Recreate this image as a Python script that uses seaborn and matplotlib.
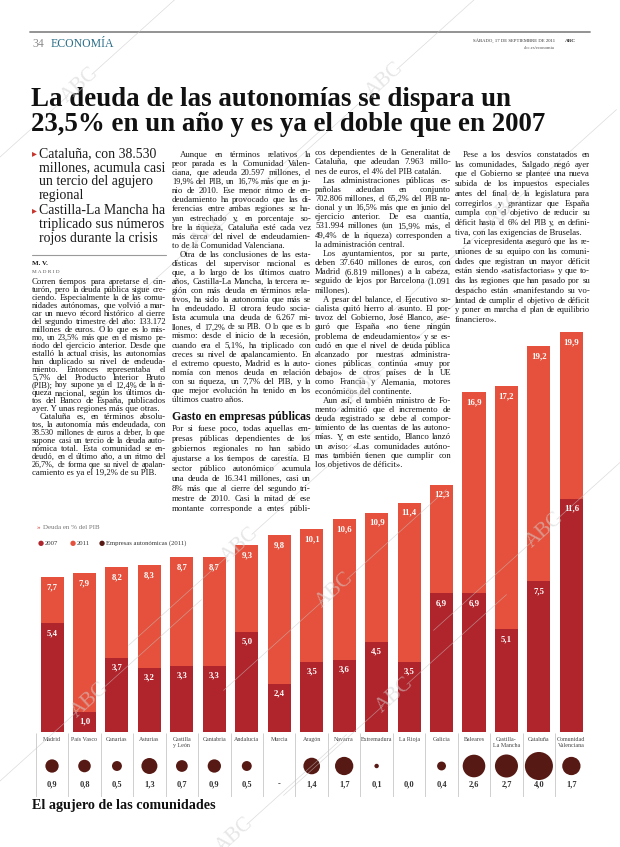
import matplotlib
matplotlib.use("Agg")
import matplotlib.pyplot as plt
from matplotlib.lines import Line2D
import seaborn as sns
import pandas as pd
import numpy as np

# ---- chart data: deuda autonómica en % del PIB ----
regions = ["Madrid", "País Vasco", "Canarias", "Asturias", "Castilla\ny León", "Cantabria",
           "Andalucía", "Murcia", "Aragón", "Navarra", "Extremadura", "La Rioja", "Galicia",
           "Baleares", "Castilla-\nLa Mancha", "Cataluña", "Comunidad\nValenciana"]
deuda_2011 = [7.7, 7.9, 8.2, 8.3, 8.7, 8.7, 9.3, 9.8, 10.1, 10.6, 10.9, 11.4, 12.3, 16.9, 17.2, 19.2, 19.9]
deuda_2007 = [5.4, 1.0, 3.7, 3.2, 3.3, 3.3, 5.0, 2.4, 3.5, 3.6, 4.5, 3.5, 6.9, 6.9, 5.1, 7.5, 11.6]
empresas_2011 = [0.9, 0.8, 0.5, 1.3, 0.7, 0.9, 0.5, None, 1.4, 1.7, 0.1, 0.0, 0.4, 2.6, 2.7, 4.0, 1.7]

# ---- page text ----
headline = ["La deuda de las autonomías se dispara un",
            "23,5% en un año y es ya el doble que en 2007"]
bullet_1 = ["Cataluña, con 38.530", "millones, acumula casi", "un tercio del agujero", "regional"]
bullet_2 = ["Castilla-La Mancha ha", "triplicado sus números", "rojos durante la crisis"]

col_1 = [
    "Corren tiempos para apretarse el cin-",
    "turón, pero la deuda pública sigue cre-",
    "ciendo. Especialmente la de las comu-",
    "nidades autónomas, que volvió a mar-",
    "car un nuevo récord histórico al cierre",
    "del segundo trimestre del año: 133.172",
    "millones de euros. O lo que es lo mis-",
    "mo, un 23,5% más que en el mismo pe-",
    "riodo del ejercicio anterior. Desde que",
    "estalló la actual crisis, las autonomías",
    "han duplicado su nivel de endeuda-",
    "miento. Entonces representaba el",
    "5,7% del Producto Interior Bruto",
    "(PIB); hoy supone ya el 12,4% de la ri-",
    "queza nacional, según los últimos da-",
    "tos del Banco de España, publicados",
    "ayer. Y unas regiones más que otras.",
    "  Cataluña es, en términos absolu-",
    "tos, la autonomía más endeudada, con",
    "38.530 millones de euros a deber, lo que",
    "supone casi un tercio de la deuda auto-",
    "nómica total. Esta comunidad se en-",
    "deudó, en el último año, a un ritmo del",
    "26,7%, de forma que su nivel de apalan-",
    "camiento es ya el 19,2% de su PIB.",
]
col_2a = [
    "  Aunque en términos relativos la",
    "peor parada es la Comunidad Valen-",
    "ciana, que adeuda 20.597 millones, el",
    "19,9% del PIB, un 16,7% más que en ju-",
    "nio de 2010. Ese menor ritmo de en-",
    "deudamiento ha provocado que las di-",
    "ferencias entre ambas regiones se ha-",
    "yan estrechado y, en porcentaje so-",
    "bre la riqueza, Cataluña esté cada vez",
    "más cerca del nivel de endeudamien-",
    "to de la Comunidad Valenciana.",
    "  Otra de las conclusiones de las esta-",
    "dísticas del supervisor nacional es",
    "que, a lo largo de los últimos cuatro",
    "años, Castilla-La Mancha, la tercera re-",
    "gión con más deuda en términos rela-",
    "tivos, ha sido la autonomía que más se",
    "ha endeudado. El otrora feudo socia-",
    "lista acumula una deuda de 6.267 mi-",
    "llones, el 17,2% de su PIB. O lo que es lo",
    "mismo: desde el inicio de la recesión,",
    "cuando era el 5,1%, ha triplicado con",
    "creces su nivel de apalancamiento. En",
    "el extremo opuesto, Madrid es la auto-",
    "nomía con menos deuda en relación",
    "con su riqueza, un 7,7% del PIB, y la",
    "que mejor evolución ha tenido en los",
    "últimos cuatro años.",
]
col_2_head = "Gasto en empresas públicas"
col_2b = [
    "Por si fuese poco, todas aquellas em-",
    "presas públicas dependientes de los",
    "gobiernos regionales no han sabido",
    "ajustarse a los tiempos de carestía. El",
    "sector público autonómico acumula",
    "una deuda de 16.341 millones, casi un",
    "8% más que al cierre del segundo tri-",
    "mestre de 2010. Casi la mitad de ese",
    "montante corresponde a entes públi-",
]
col_3 = [
    "cos dependientes de la Generalitat de",
    "Cataluña, que adeudan 7.963 millo-",
    "nes de euros, el 4% del PIB catalán.",
    "  Las administraciones públicas es-",
    "pañolas adeudan en conjunto",
    "702.806 millones, el 65,2% del PIB na-",
    "cional y un 16,5% más que en junio del",
    "ejercicio anterior. De esa cuantía,",
    "531.994 millones (un 15,9% más, el",
    "49,4% de la riqueza) corresponden a",
    "la administración central.",
    "  Los ayuntamientos, por su parte,",
    "deben 37.640 millones de euros, con",
    "Madrid (6.819 millones) a la cabeza,",
    "seguido de lejos por Barcelona (1.091",
    "millones).",
    "  A pesar del balance, el Ejecutivo so-",
    "cialista quitó hierro al asunto. El por-",
    "tavoz del Gobierno, José Blanco, ase-",
    "guró que España «no tiene ningún",
    "problema de endeudamiento» y se es-",
    "cudó en que el nivel de deuda pública",
    "alcanzado por nuestras administra-",
    "ciones públicas continúa «muy por",
    "debajo» de otros países de la UE",
    "como Francia y Alemania, motores",
    "económicos del continente.",
    "  Aun así, el también ministro de Fo-",
    "mento admitió que el incremento de",
    "deuda registrado se debe al compor-",
    "tamiento de las cuentas de las autono-",
    "mías. Y, en este sentido, Blanco lanzó",
    "un aviso: «Las comunidades autóno-",
    "mas también tienen que cumplir con",
    "los objetivos de déficit».",
]
col_4 = [
    "  Pese a los desvíos constatados en",
    "las comunidades, Salgado negó ayer",
    "que el Gobierno se plantee una nueva",
    "subida de los impuestos especiales",
    "antes del final de la legislatura para",
    "corregirlos y garantizar que España",
    "cumpla con el objetivo de reducir su",
    "déficit hasta el 6% del PIB y, en defini-",
    "tiva, con las exigencias de Bruselas.",
    "  La vicepresidenta aseguró que las re-",
    "uniones de su equipo con las comuni-",
    "dades que registran un mayor déficit",
    "están siendo «satisfactorias» y que to-",
    "das las regiones que han pasado por su",
    "despacho están «manifestando su vo-",
    "luntad de cumplir el objetivo de déficit",
    "y poner en marcha el plan de equilibrio",
    "financiero».",
]

C2011 = "#e5513c"
C2007 = "#b0242b"
CEMP = "#561913"
TEXT = "#161616"
BODY = 6.3

sns.set_theme(style="white")
plt.rcParams["font.family"] = ["Liberation Serif", "DejaVu Serif"]

W, H = 620, 847
fig = plt.figure(figsize=(W / 100, H / 100), dpi=100)
fig.patch.set_facecolor("white")
renderer = fig.canvas.get_renderer()


def fx(x):
    return x / W


def fy(y):
    return 1 - y / H


def put(x, y, s, **kw):
    return fig.text(fx(x), fy(y), s, **kw)


_widths = {}


def width(s, size, weight="normal", family="Liberation Serif"):
    key = (s, size, weight, family)
    if key not in _widths:
        t = fig.text(0, 0, s, fontsize=size, fontweight=weight, family=family)
        _widths[key] = t.get_window_extent(renderer).width
        t.remove()
    return _widths[key]


def column(lines, x0, x1, y0, y1, size=BODY):
    # justified newspaper column, one text per word; tight lines get a smaller size
    step = (y1 - y0) / (len(lines) - 1)
    for k, raw in enumerate(lines):
        y = y0 + k * step + 2
        left = x0 + (8 if raw.startswith("  ") else 0)
        line = raw.strip()
        nxt = lines[k + 1] if k + 1 < len(lines) else None
        last = (nxt is None or nxt.startswith("  ")) and not line.endswith("-")
        words = line.split()
        avail = x1 - left
        natural = width(line, size)
        fs = size if natural * 1.0 <= avail else size * avail / natural * 0.99
        if last or len(words) < 2:
            put(left, y, line, fontsize=fs, color=TEXT, va="baseline")
            continue
        ws = [width(w, fs) for w in words]
        gap = (avail - sum(ws)) / (len(words) - 1)
        xx = left
        for w, wd in zip(words, ws):
            put(xx, y, w, fontsize=fs, color=TEXT, va="baseline")
            xx += wd + gap


def hline(x0, x1, y, color="#9a9a9a", lw=0.8):
    fig.add_artist(Line2D([fx(x0), fx(x1)], [fy(y), fy(y)], color=color, lw=lw))


def watermark(x, y, ang=42):
    t = np.deg2rad(ang)
    dx, dy = np.cos(t), np.sin(t)
    for a, b in [(-150, -16), (16, 150)]:
        fig.add_artist(Line2D([fx(x + a * dx), fx(x + b * dx)], [fy(y - a * dy), fy(y - b * dy)],
                              color="#c4c4c4", lw=0.5, alpha=0.6))
    put(x, y, "ABC", rotation=ang, fontsize=15, color="#d2d2d2", alpha=0.55,
        ha="center", va="center", rotation_mode="anchor")


# ---- header ----
hline(30, 590, 32, color="#8a8a8a", lw=1.3)
put(32, 47, "34", fontsize=8.5, color="#8c8c8c", va="baseline")
put(51, 47, "ECONOMÍA", fontsize=8.5, color="#2c6f89", va="baseline")
put(555, 42, "SÁBADO, 17 DE SEPTIEMBRE DE 2011", fontsize=3.4, color="#333", ha="right", va="baseline")
put(565, 42, "ABC", fontsize=3.8, fontweight="bold", color="#333", va="baseline")
put(555, 49, "abc.es/economia", fontsize=3.4, color="#555", ha="right", va="baseline")

# ---- headline ----
hs = 10 * 516 / width(headline[1], 10, "bold")
put(31, 106, headline[0], fontsize=hs, fontweight="bold", color="#111", va="baseline")
put(31, 131, headline[1], fontsize=hs, fontweight="bold", color="#111", va="baseline")

# ---- bullets ----
bs = 10 * 124 / width(bullet_2[1], 10)
for block, y0 in [(bullet_1, 157), (bullet_2, 214)]:
    put(32, y0 - 1, "▸", fontsize=7, color="#c8342c", family="DejaVu Sans", va="baseline")
    for k, line in enumerate(block):
        put(39, y0 + k * 14, line, fontsize=bs, color="#1a1a1a", va="baseline")

hline(32, 166, 255)
put(32, 265, "M. V.", fontsize=5, fontweight="bold", color=TEXT, va="baseline")
put(32, 273, "M A D R I D", fontsize=3.8, color="#555", va="baseline")

# ---- body columns ----
column(col_1, 32, 166, 282, 473)
column(col_2a, 172, 311, 155, 400)
hs2 = 10 * 139 / width(col_2_head, 10, "bold")
put(172, 420, col_2_head, fontsize=hs2, fontweight="bold", color="#111", va="baseline")
column(col_2b, 172, 311, 429, 509)
column(col_3, 315, 451, 153, 465)
column(col_4, 455, 590, 155, 320)

# ---- chart legend ----
put(37, 529, "»", fontsize=5, color="#c8342c", va="baseline")
put(43, 529, "Deuda en % del PIB", fontsize=5, color="#777", va="baseline")
for x, c, lab in [(38, C2007, "2007"), (70, C2011, "2011"), (99, CEMP, "Empresas autonómicas (2011)")]:
    put(x, 545, "●", fontsize=5, color=c, family="DejaVu Sans", va="baseline")
    put(x + 7, 545, lab, fontsize=4.8, color="#333", va="baseline")

# ---- bars ----
fmt = lambda v: f"{v:.1f}".replace(".", ",")
df = pd.DataFrame({"region": regions, "d2011": deuda_2011, "d2007": deuda_2007})

x_left, x_right = 35.8, 587.6
y_base, ymax = 732, 20.3
ppu = 20.1
ax = fig.add_axes([fx(x_left), fy(y_base), (x_right - x_left) / W, ymax * ppu / H])
sns.barplot(data=df, x="region", y="d2011", color=C2011, saturation=1, width=0.71, linewidth=0, ax=ax)
sns.barplot(data=df, x="region", y="d2007", color=C2007, saturation=1, width=0.71, linewidth=0, ax=ax)
ax.set_xlim(-0.5, len(regions) - 0.5)
ax.set_ylim(0, ymax)
ax.axis("off")
for i, (a, b) in enumerate(zip(deuda_2011, deuda_2007)):
    for v in (a, b):
        ax.annotate(fmt(v), (i, v), xytext=(0, -10), textcoords="offset pixels", ha="center",
                    va="center", fontsize=6.3, fontweight="bold", color="white")

# ---- label strip with circles ----
y_strip_top, y_strip_bot = 733, 797
ax2 = fig.add_axes([fx(x_left), fy(y_strip_bot), (x_right - x_left) / W, (y_strip_bot - y_strip_top) / H])
ax2.vlines(np.arange(-0.5, len(regions)), y_strip_top, y_strip_bot, color="#c8c8c8", lw=0.6)

emp = pd.DataFrame({"pos": range(len(regions)), "emp": empresas_2011}).dropna()
sns.scatterplot(data=emp, x="pos", y=766, size="emp", sizes=(0, 408), size_norm=(0, 4),
                color=CEMP, linewidth=0, legend=False, ax=ax2)
ax2.set_xlim(-0.5, len(regions) - 0.5)
ax2.set_ylim(y_strip_bot, y_strip_top)
ax2.axis("off")
for i, (name, v) in enumerate(zip(regions, empresas_2011)):
    ax2.text(i, 737, name, ha="center", va="top", fontsize=4.3, color="#444", linespacing=1.3)
    ax2.text(i, 784, "-" if v is None else fmt(v), ha="center", va="center",
             fontsize=6, fontweight="bold", color="#333")

put(32, 809, "El agujero de las comunidades", fontsize=10.2, fontweight="bold", color="#111", va="baseline")

# ---- ABC watermarks ----
for wx, wy in [(80, 85), (385, 80), (210, 230), (505, 210), (365, 385), (240, 545),
               (335, 590), (545, 530), (90, 700), (395, 695), (235, 835)]:
    watermark(wx, wy)

fig.savefig("out.png", dpi=100, facecolor="white")
